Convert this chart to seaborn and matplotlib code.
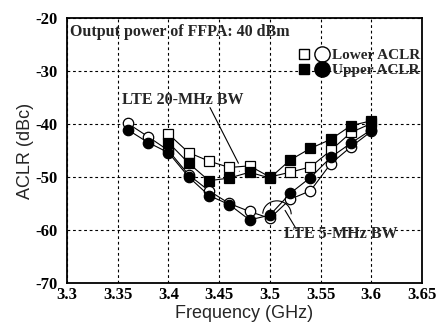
import pandas as pd
import matplotlib
matplotlib.use("Agg")
import matplotlib.pyplot as plt
import seaborn as sns
from matplotlib.lines import Line2D
from matplotlib.patches import Arc
from matplotlib.legend_handler import HandlerTuple

# Data
freq_20 = [3.40, 3.42, 3.44, 3.46, 3.48, 3.50, 3.52, 3.54, 3.56, 3.58, 3.60]
lower_20 = [-41.9, -45.4, -47.0, -48.2, -47.9, -50.0, -49.1, -48.1, -45.0, -41.6, -39.9]
upper_20 = [-43.5, -47.4, -50.7, -50.2, -49.1, -50.2, -46.8, -44.6, -42.9, -40.3, -39.4]

freq_5 = [3.36, 3.38, 3.40, 3.42, 3.44, 3.46, 3.48, 3.50, 3.52, 3.54, 3.56, 3.58, 3.60]
lower_5 = [-39.9, -42.4, -45.0, -49.6, -52.6, -55.0, -56.5, -57.8, -54.2, -52.6, -47.5, -44.3, -41.4]
upper_5 = [-41.1, -43.5, -45.4, -50.0, -53.5, -55.2, -58.1, -57.2, -53.1, -50.1, -46.3, -43.6, -41.1]

xticks = [3.3, 3.35, 3.4, 3.45, 3.5, 3.55, 3.6, 3.65]
xtick_labels = ["3.3", "3.35", "3.4", "3.45", "3.5", "3.55", "3.6", "3.65"]
yticks = [-70, -60, -50, -40, -30, -20]
ytick_labels = ["-70", "-60", "-50", "-40", "-30", "-20"]

sns.set_style("white")
plt.rcParams["axes.unicode_minus"] = False
serif = "Liberation Serif"
sans = "Liberation Sans"

fig = plt.figure(figsize=(4.37, 3.25), dpi=100)
ax = fig.add_axes([67 / 437, 1 - 283 / 325, 355 / 437, 265 / 325])

common = dict(color="black", linewidth=0.8, markeredgecolor="black",
              markeredgewidth=0.9, ax=ax, legend=False)
sns.lineplot(x=freq_5, y=lower_5, marker="o", markersize=7.5,
             markerfacecolor="white", **common)
sns.lineplot(x=freq_20, y=lower_20, marker="s", markersize=7,
             markerfacecolor="white", **common)
sns.lineplot(x=freq_5, y=upper_5, marker="o", markersize=7.5,
             markerfacecolor="black", **common)
sns.lineplot(x=freq_20, y=upper_20, marker="s", markersize=7,
             markerfacecolor="black", **common)

ax.set_xlim(3.3, 3.65)
ax.set_ylim(-70, -20)
ax.set_xticks(xticks)
ax.set_xticklabels(xtick_labels, fontfamily=serif, fontweight="bold", fontsize=12)
ax.set_yticks(yticks)
ax.set_yticklabels(ytick_labels, fontfamily=serif, fontweight="bold", fontsize=12)
ax.tick_params(axis="y", direction="in", length=4, width=1, colors="black", pad=7)
ax.tick_params(axis="x", direction="in", length=4, width=1, colors="black", pad=3)
ax.grid(True, color="black", linestyle=(0, (2.5, 2.5)), linewidth=0.8)
for s in ax.spines.values():
    s.set_color("black")
    s.set_linewidth(1.3)

ax.set_xlabel("Frequency (GHz)", fontfamily=sans, fontsize=13, labelpad=1)
ax.set_ylabel("ACLR (dBc)", fontfamily=sans, fontsize=13, labelpad=1)

# annotations
ax.text(3.303, -22.6, "Output power of FFPA: 40 dBm", fontfamily=serif,
        fontweight="bold", fontsize=11.5, va="center", ha="left")
ax.text(3.354, -35.5, "LTE 20-MHz BW", fontfamily=serif,
        fontweight="bold", fontsize=11.5, va="center", ha="left")
ax.text(3.514, -60.8, "LTE 5-MHz BW", fontfamily=serif,
        fontweight="bold", fontsize=11.5, va="center", ha="left")
ax.plot([3.441, 3.469], [-36.9, -47.4], color="black", lw=0.8)
ax.plot([3.515, 3.526], [-56.3, -59.8], color="black", lw=0.8)
ax.add_patch(Arc((3.453, -48.9), 0.034, 7.5, theta1=-75, theta2=75,
                 color="black", lw=0.8))
ax.add_patch(Arc((3.507, -57.0), 0.028, 5.0, theta1=-70, theta2=100,
                 color="black", lw=0.8))

# legend
h_low = (Line2D([], [], marker="s", ls="", ms=7, mfc="white", mec="black"),
         Line2D([], [], marker="o", ls="", ms=11, mfc="white", mec="black"))
h_up = (Line2D([], [], marker="s", ls="", ms=7, mfc="black", mec="black"),
        Line2D([], [], marker="o", ls="", ms=11, mfc="black", mec="black"))
ax.legend([h_low, h_up], ["Lower ACLR", "Upper ACLR"],
          handler_map={tuple: HandlerTuple(ndivide=None, pad=0.1)},
          loc="upper right", bbox_to_anchor=(0.995, 0.885), frameon=False,
          prop={"family": serif, "weight": "bold", "size": 11},
          handlelength=2.2, handletextpad=0.15, labelspacing=0.1,
          borderpad=0, borderaxespad=0)

fig.savefig("out.png", dpi=100)
